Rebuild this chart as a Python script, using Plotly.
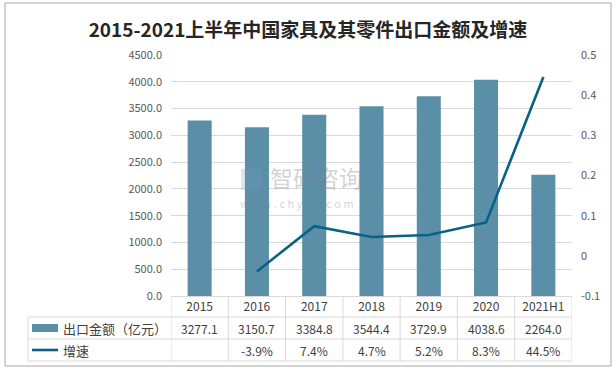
import plotly.graph_objects as go

categories = ["2015", "2016", "2017", "2018", "2019", "2020", "2021H1"]
export_value = [3277.1, 3150.7, 3384.8, 3544.4, 3729.9, 4038.6, 2264.0]
growth = [None, -0.039, 0.074, 0.047, 0.052, 0.083, 0.445]
left_ticks = [0, 500, 1000, 1500, 2000, 2500, 3000, 3500, 4000, 4500]
right_ticks = [-0.1, 0, 0.1, 0.2, 0.3, 0.4, 0.5]

bar_color = "#5B8FA8"
line_color = "#0A6186"
text_color = "#404040"
grid_color = "#D9D9D9"
FONT = "Noto Sans CJK SC"

W, H = 616, 373
L, R, T, B = 171, 44, 55, 77
pw, ph = W - L - R, H - T - B

def px_x(px):
    return (px - L) / pw

def px_y(py):
    return (H - B - py) / ph

fig = go.Figure()
fig.add_trace(go.Bar(x=categories, y=export_value, name="出口金额（亿元）",
                     marker=dict(color=bar_color, line=dict(width=0)), width=0.42,
                     showlegend=False, hoverinfo="skip"))
fig.add_trace(go.Scatter(x=categories, y=growth, name="增速", mode="lines",
                         line=dict(color=line_color, width=2.6), yaxis="y2",
                         showlegend=False, connectgaps=False, hoverinfo="skip"))

shapes = []
# outer chart border
shapes.append(dict(type="rect", xref="paper", yref="paper",
                   x0=px_x(5), x1=px_x(611), y0=px_y(366), y1=px_y(3),
                   line=dict(color="#A6A6A6", width=1)))
# table lines
row_lines_y = [317, 339, 361]
for ry in row_lines_y:
    shapes.append(dict(type="line", xref="paper", yref="paper",
                       x0=px_x(28), x1=1, y0=px_y(ry), y1=px_y(ry),
                       line=dict(color=grid_color, width=1)))
shapes.append(dict(type="line", xref="paper", yref="paper",
                   x0=px_x(28), x1=px_x(28), y0=px_y(317), y1=px_y(361),
                   line=dict(color=grid_color, width=1)))
for i in range(len(categories) + 1):
    shapes.append(dict(type="line", xref="x", yref="paper",
                       x0=i - 0.5, x1=i - 0.5, y0=0, y1=px_y(361),
                       line=dict(color=grid_color, width=1)))
# legend keys in table
shapes.append(dict(type="rect", xref="paper", yref="paper",
                   x0=px_x(32), x1=px_x(58), y0=px_y(332), y1=px_y(324),
                   fillcolor=bar_color, line=dict(width=0)))
shapes.append(dict(type="line", xref="paper", yref="paper",
                   x0=px_x(32), x1=px_x(58), y0=px_y(350), y1=px_y(350),
                   line=dict(color=line_color, width=2.6)))
# watermark logo (faint)
shapes.append(dict(type="rect", xref="paper", yref="paper",
                   x0=px_x(241), x1=px_x(262), y0=px_y(190), y1=px_y(169),
                   fillcolor="rgba(120,150,190,0.25)", line=dict(width=0)))

annotations = []
annotations.append(dict(text="出口金额（亿元）", xref="paper", yref="paper",
                        x=px_x(61), y=px_y(328), xanchor="left", yanchor="middle",
                        showarrow=False, font=dict(family=FONT, size=13, color=text_color)))
annotations.append(dict(text="增速", xref="paper", yref="paper",
                        x=px_x(61), y=px_y(350), xanchor="left", yanchor="middle",
                        showarrow=False, font=dict(family=FONT, size=13, color=text_color)))
for i, c in enumerate(categories):
    annotations.append(dict(text=f"{export_value[i]:.1f}", xref="x", yref="paper",
                            x=i, y=px_y(328), xanchor="center", yanchor="middle",
                            showarrow=False, font=dict(family=FONT, size=12, color=text_color)))
    if growth[i] is not None:
        annotations.append(dict(text=f"{growth[i]*100:.1f}%", xref="x", yref="paper",
                                x=i, y=px_y(350), xanchor="center", yanchor="middle",
                                showarrow=False, font=dict(family=FONT, size=12, color=text_color)))
# watermark
annotations.append(dict(text="智研咨询", xref="paper", yref="paper",
                        x=px_x(268), y=px_y(177), xanchor="left", yanchor="middle",
                        showarrow=False, font=dict(family=FONT, size=23, color="rgba(128,128,128,0.35)")))
annotations.append(dict(text="w w w . c h y x x . c o m", xref="paper", yref="paper",
                        x=px_x(238), y=px_y(203), xanchor="left", yanchor="middle",
                        showarrow=False, font=dict(family=FONT, size=11, color="rgba(128,128,128,0.35)")))

fig.update_layout(
    width=W, height=H,
    margin=dict(l=L, r=R, t=T, b=B, autoexpand=False),
    paper_bgcolor="white", plot_bgcolor="white",
    title=dict(text="<b>2015-2021上半年中国家具及其零件出口金额及增速</b>",
               x=0.5, xref="container", xanchor="center", y=1 - 30 / H, yanchor="middle",
               font=dict(family=FONT, size=19, color="#262626")),
    xaxis=dict(type="category", showgrid=False, showline=True, linecolor=grid_color,
               ticks="", tickfont=dict(family=FONT, size=12, color=text_color),
               range=[-0.5, 6.5], fixedrange=True),
    yaxis=dict(range=[0, 4500], tickvals=left_ticks,
               ticktext=[f"{v:.1f}" for v in left_ticks],
               showgrid=True, gridcolor=grid_color, gridwidth=1, zeroline=False,
               tickfont=dict(family=FONT, size=11, color="#595959"), ticks="",
               ticklabelstandoff=8),
    yaxis2=dict(range=[-0.1, 0.5], tickvals=right_ticks,
                ticktext=[f"{v:g}" for v in right_ticks],
                overlaying="y", side="right", showgrid=False, zeroline=False,
                tickfont=dict(family=FONT, size=11, color="#595959"), ticks="",
                ticklabelstandoff=8),
    shapes=shapes, annotations=annotations,
    bargap=0.5,
)

fig.write_html("out.html", config={"staticPlot": True},
               post_script="document.body.style.margin='0';document.body.style.overflow='hidden';")
